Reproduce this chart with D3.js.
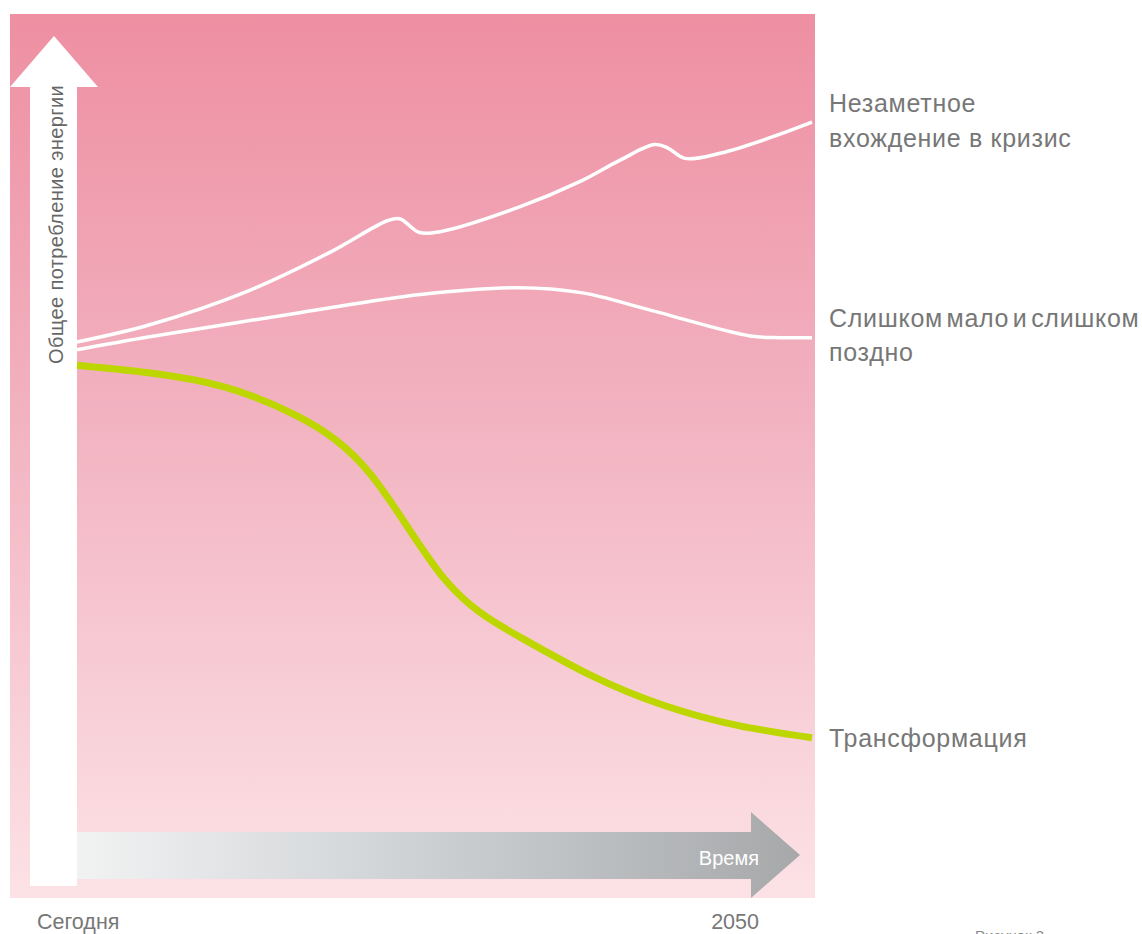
<!DOCTYPE html>
<html><head><meta charset="utf-8">
<script src="https://cdn.jsdelivr.net/npm/d3@7"></script>
<style>html,body{margin:0;padding:0;background:#fff;overflow:hidden}</style>
</head><body>
<script>
// time axis: 0 = Сегодня, 100 = 2050 ; energy index arbitrary units
const timeTicks = ["Сегодня", "2050"];
const crisisT = [0, 9.9, 23.5, 34.4, 42.3, 43.9, 46.6, 49.4, 60.3, 68.4, 73.9, 78.6, 80.4, 82.7, 87.5, 94.3, 100];
const crisisV = [64.5, 66.5, 70.5, 74.9, 78.6, 78.8, 77.2, 77.3, 80.2, 83.1, 85.6, 87.4, 87.0, 85.8, 86.4, 88.2, 90.0];
const lateT = [0, 9.9, 30.3, 46.7, 59.9, 68.8, 78.0, 91.6, 95.6, 100];
const lateV = [63.6, 65.1, 67.9, 70.0, 70.8, 70.2, 68.2, 65.2, 65.0, 65.0];
const transT = [0, 10, 20, 30, 40, 50, 60, 70, 80, 90, 100];
const transV = [61.8, 60.9, 59.3, 55.9, 49.1, 37.0, 30.4, 25.8, 22.3, 20.0, 18.6];
const seriesNames = [["Незаметное", "вхождение в кризис"], ["Слишком мало и слишком", "поздно"], ["Трансформация"]];
const yAxisTitle = "Общее потребление энергии";
const xAxisTitle = "Время";
const caption = "Рисунок 3";

const W = 1142, H = 934;
const svg = d3.select("body").append("svg").attr("width", W).attr("height", H);
const defs = svg.append("defs");
const bg = defs.append("linearGradient").attr("id", "bg").attr("x1", 0).attr("y1", 0).attr("x2", 0).attr("y2", 1);
bg.append("stop").attr("offset", "0%").attr("stop-color", "#ee8fa2");
bg.append("stop").attr("offset", "45%").attr("stop-color", "#f2b2c0");
bg.append("stop").attr("offset", "100%").attr("stop-color", "#fce2e6");
const ag = defs.append("linearGradient").attr("id", "ag").attr("x1", 0).attr("y1", 0).attr("x2", 1).attr("y2", 0);
ag.append("stop").attr("offset", "0%").attr("stop-color", "#f6f6f6");
ag.append("stop").attr("offset", "45%").attr("stop-color", "#d2d5d8");
ag.append("stop").attr("offset", "100%").attr("stop-color", "#a6a8aa");

svg.append("rect").attr("x", 10).attr("y", 14).attr("width", 805).attr("height", 884).attr("fill", "url(#bg)");

const x = d3.scaleLinear().domain([0, 100]).range([77, 812]);
const y = d3.scaleLinear().domain([0, 100]).range([898, 36]);

// horizontal arrow (time)
svg.append("path").attr("fill", "url(#ag)")
  .attr("d", `M35,832 L751,832 L751,812 L800,855 L751,898 L751,879 L35,879 Z`);
svg.append("text").attr("x", 759).attr("y", 865).attr("text-anchor", "end")
  .attr("font-family", "Liberation Sans Narrow, Liberation Sans, sans-serif").attr("font-size", 20)
  .attr("fill", "#fff").text(xAxisTitle);

// vertical arrow
svg.append("path").attr("fill", "#fff")
  .attr("d", `M30,886 L30,87 L10,87 L54,36 L98,87 L77,87 L77,886 Z`);
svg.append("text").attr("transform", "translate(63,364) rotate(-90)")
  .attr("font-family", "Liberation Sans, Arial, sans-serif").attr("font-size", 20)
  .attr("letter-spacing", 0.4)
  .attr("fill", "#666").text(yAxisTitle);

const line = d3.line().x(d => x(d[0])).y(d => y(d[1])).curve(d3.curveCatmullRom.alpha(0.5));
const lineN = d3.line().x(d => x(d[0])).y(d => y(d[1])).curve(d3.curveNatural);
const zip = (a, b) => a.map((t, i) => [t, b[i]]);
svg.append("path").attr("d", line(zip(lateT, lateV))).attr("fill", "none").attr("stroke", "#fff").attr("stroke-width", 3.5);
svg.append("path").attr("d", line(zip(crisisT, crisisV))).attr("fill", "none").attr("stroke", "#fff").attr("stroke-width", 3.5);
svg.append("path").attr("d", lineN(zip(transT, transV))).attr("fill", "none").attr("stroke", "#bdd600").attr("stroke-width", 7);

// series labels
const lab = svg.append("g").attr("font-family", "Liberation Sans, Arial, sans-serif").attr("font-size", 25)
  .attr("letter-spacing", 0.7).attr("fill", "#777");
const labelPos = [[112, 147], [327, 361], [747]];
seriesNames.forEach((lines, i) => lines.forEach((s, j) => {
  const t = lab.append("text").attr("x", 829).attr("y", labelPos[i][j]).text(s);
  if (s.length > 20) t.attr("word-spacing", -4);
}));

// tick labels
const tl = svg.append("g").attr("font-family", "Liberation Sans Narrow, Liberation Sans, sans-serif").attr("font-size", 21.5).attr("fill", "#777");
tl.append("text").attr("x", 37).attr("y", 929).text(timeTicks[0]);
tl.append("text").attr("x", 759).attr("y", 929).attr("text-anchor", "end").text(timeTicks[1]);

svg.append("text").attr("x", 975).attr("y", 941).attr("font-family", "Liberation Sans Narrow, Liberation Sans, sans-serif")
  .attr("font-size", 15).attr("fill", "#888").text(caption);
</script>
</body></html>
